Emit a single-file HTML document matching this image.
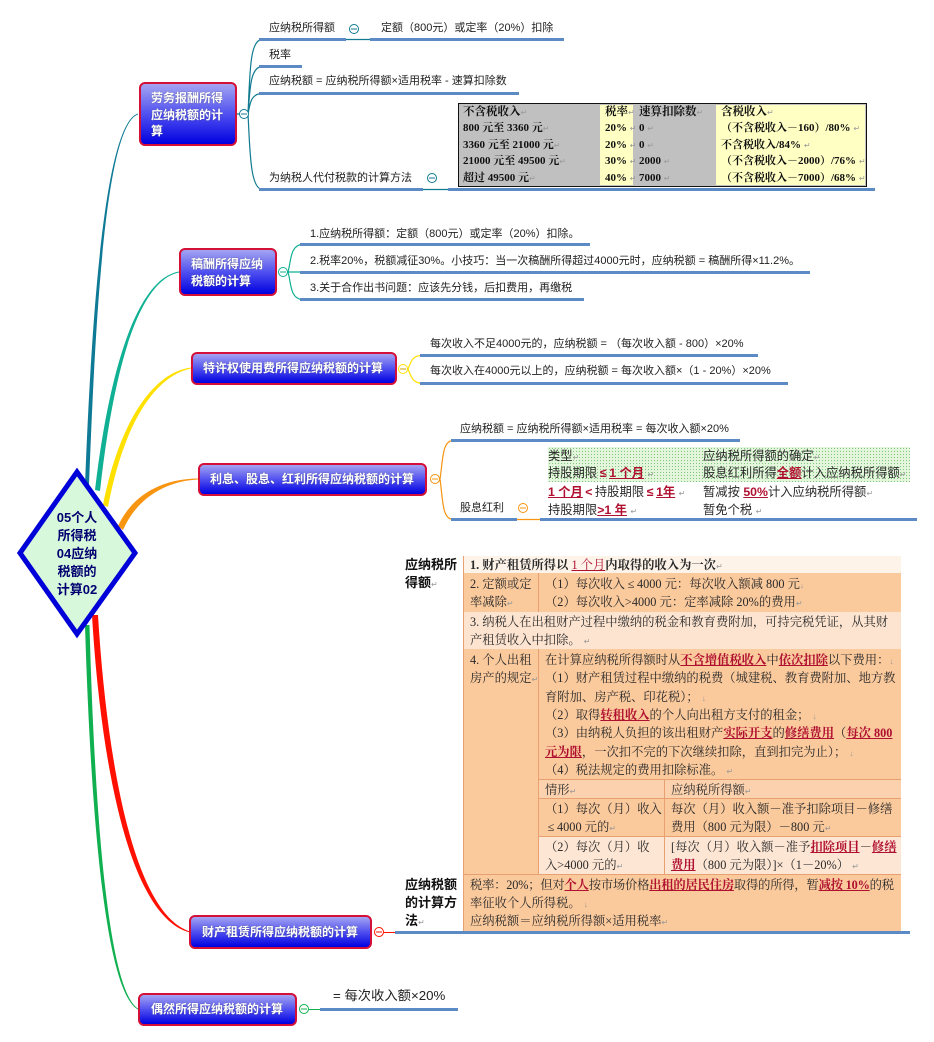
<!DOCTYPE html>
<html lang="zh"><head><meta charset="utf-8"><style>
html,body{margin:0;padding:0;background:#fff}
#p{position:relative;width:934px;height:1042px;overflow:hidden;background:#fff;font-family:"Liberation Sans","Noto Sans CJK SC",sans-serif;color:#222}
.t{position:absolute;white-space:nowrap;line-height:18px;font-size:11px}
.n{position:absolute;box-sizing:border-box;border:2px solid #d41038;border-radius:6px;background:linear-gradient(#a4a4f2,#5050f0 50%,#0000e0)}
.w{color:#fff;font-weight:bold;font-size:12px;text-shadow:0 0 1px #446}
.c{color:#000070;font-weight:bold;font-size:13px;text-align:center;width:80px;left:37px}
.b{position:absolute;background:#5b8ac4;height:3px}
.x{position:absolute}
.s{font-family:"Liberation Serif","Noto Serif CJK SC",serif;font-size:12.3px;color:#2a2a2a}
.h{font-family:"Liberation Sans","Noto Sans CJK SC",sans-serif;font-size:12.3px;color:#2a2a2a}
.k{font-family:"Liberation Serif","Noto Serif CJK SC",serif;font-weight:bold;font-size:11px;color:#111}
.kh{font-size:11.5px}
.l{font-family:"Liberation Sans","Noto Sans CJK SC",sans-serif;font-weight:bold;font-size:13px;color:#111}
.r{color:#b01030;font-weight:bold;text-decoration:underline}
.q{color:#b01030;text-decoration:underline}
.e{display:inline-block;width:12px;text-align:center}
i{font-style:normal;font-size:8px;color:#999;font-weight:normal}
</style></head><body><div id="p">

<svg class="x" style="left:0;top:0" width="934" height="1042" viewBox="0 0 934 1042">
<path fill="#0f7a96" d="M85,485C91,330 103.5,124 138,113.5L138,114.5C104.5,126 95,330 89,485Z"/>
<path fill="#0fb093" d="M95,490C108,378 135,279 179,271.5L179,272.5C135.5,281 112,382 100,491Z"/>
<path fill="#ffe000" d="M103,505C118,428 150,373 191,367.5L191,368.5C151,377 122,432 108,507Z"/>
<path fill="#f79410" d="M118,526C134,492 165,479 198,478.5L198,479.5C166,481 137,498 123,530Z"/>
<path fill="#ff1000" d="M92,615C100,752 127,917 190,932.5L190,931.5C131,913 106,748 98,615Z"/>
<path fill="#10b050" d="M85,625C90,790 103,991 138,1009.5L138,1008.5C106,989 94,790 89.5,625Z"/>
<g fill="none" stroke="#0f7a90" stroke-width="1.2">
<path d="M248,114C250,70 250,40 262,39.5M248,114C250,90 250,67 262,66.5M248,114C250,105 250,94 262,93.5M248,114C250,150 250,188 262,189.5"/>
<path d="M346,39.5H370M423,189.5H448M237,114H240"/></g>
<circle cx="244" cy="114" r="4.5" fill="#fff" stroke="#0f7a90"/><path d="M241,114h6" stroke="#0f7a90"/>
<circle cx="354" cy="29" r="4.5" fill="#fff" stroke="#0f7a90"/><path d="M351,29h6" stroke="#0f7a90"/>
<circle cx="432" cy="178" r="4.5" fill="#fff" stroke="#0f7a90"/><path d="M429,178h6" stroke="#0f7a90"/>
<g fill="none" stroke="#0fb093" stroke-width="1.2"><path d="M288,272C291,262 290,245 302,244.5M288,272H302M288,272C291,282 290,299 302,299.5"/></g>
<circle cx="283" cy="272" r="4.5" fill="#fff" stroke="#0fb093"/><path d="M280,272h6" stroke="#0fb093"/>
<g fill="none" stroke="#ffe000" stroke-width="1.2"><path d="M408,369C411,362 412,356 421,355.5M408,369C411,376 412,382 421,383.5"/></g>
<circle cx="403" cy="369" r="4.5" fill="#fff" stroke="#ffe000"/><path d="M400,369h6" stroke="#c8a000"/>
<g fill="none" stroke="#f79410" stroke-width="1.2"><path d="M440,479C443,460 442,441 453,440.5M440,479C443,500 442,519 453,519.5M517,519.5H540"/></g>
<circle cx="435" cy="479" r="4.5" fill="#fff" stroke="#f79410"/><path d="M432,479h6" stroke="#f79410"/>
<circle cx="523" cy="508" r="4.5" fill="#fff" stroke="#f79410"/><path d="M520,508h6" stroke="#f79410"/>
<path d="M384,932.5H396" stroke="#ff1000"/>
<circle cx="379" cy="932" r="4.5" fill="#fff" stroke="#ff1000"/><path d="M376,932h6" stroke="#ff1000"/>
<path d="M309,1009.5H321" stroke="#10b050"/>
<circle cx="304" cy="1009" r="4.5" fill="#fff" stroke="#10b050"/><path d="M301,1009h6" stroke="#10b050"/>
<polygon points="77,472 135,553 77,634 20,553" fill="#d8f8dc" stroke="#0000d8" stroke-width="5" stroke-linejoin="miter"/>
</svg>

<div class="t c" style="top:509px">05个人</div>
<div class="t c" style="top:527px">所得税</div>
<div class="t c" style="top:545px">04应纳</div>
<div class="t c" style="top:563px">税额的</div>
<div class="t c" style="top:581px">计算02</div>

<div class="n" style="left:139px;top:82px;width:98px;height:64px"></div>
<div class="t w" style="left:151px;top:89px">劳务报酬所得</div>
<div class="t w" style="left:151px;top:106px">应纳税额的计</div>
<div class="t w" style="left:151px;top:122px">算</div>
<div class="n" style="left:179px;top:248px;width:98px;height:48px"></div>
<div class="t w" style="left:191px;top:255px">稿酬所得应纳</div>
<div class="t w" style="left:191px;top:272px">税额的计算</div>
<div class="n" style="left:191px;top:352px;width:206px;height:33px"></div>
<div class="t w" style="left:203px;top:359px">特许权使用费所得应纳税额的计算</div>
<div class="n" style="left:198px;top:463px;width:229px;height:33px"></div>
<div class="t w" style="left:210px;top:470px">利息、股息、红利所得应纳税额的计算</div>
<div class="n" style="left:189px;top:915px;width:183px;height:34px"></div>
<div class="t w" style="left:202px;top:923px">财产租赁所得应纳税额的计算</div>
<div class="n" style="left:138px;top:993px;width:159px;height:33px"></div>
<div class="t w" style="left:151px;top:1000px">偶然所得应纳税额的计算</div>

<div class="t" style="left:269px;top:19px">应纳税所得额</div>
<div class="t" style="left:381px;top:19px">定额（800元）或定率（20%）扣除</div>
<div class="b" style="left:259px;top:38px;width:87px"></div>
<div class="b" style="left:370px;top:38px;width:194px"></div>
<div class="t" style="left:269px;top:46px">税率</div>
<div class="b" style="left:259px;top:65px;width:43px"></div>
<div class="t" style="left:269px;top:72px">应纳税额 = 应纳税所得额×适用税率 - 速算扣除数</div>
<div class="b" style="left:259px;top:92px;width:260px"></div>
<div class="t" style="left:269px;top:169px">为纳税人代付税款的计算方法</div>
<div class="b" style="left:259px;top:188px;width:164px"></div>
<div class="b" style="left:448px;top:188px;width:427px"></div>

<div class="x" style="left:458px;top:103px;width:409px;height:84px;box-sizing:border-box;border:1.5px solid #111;background:#c0c0c0"></div>
<div class="x" style="left:600px;top:105px;width:33px;height:80px;background:#ffffc4"></div>
<div class="x" style="left:716px;top:105px;width:149px;height:80px;background:#ffffc4"></div>
<div class="t k kh" style="left:463px;top:103px">不含税收入<i>↵</i></div>
<div class="t k" style="left:463px;top:119px">800 元至 3360 元<i>↵</i></div>
<div class="t k" style="left:463px;top:136px">3360 元至 21000 元<i>↵</i></div>
<div class="t k" style="left:463px;top:152px">21000 元至 49500 元<i>↵</i></div>
<div class="t k" style="left:463px;top:169px">超过 49500 元<i>↵</i></div>
<div class="t k kh" style="left:605px;top:103px">税率<i>↵</i></div>
<div class="t k" style="left:605px;top:119px">20% <i>↵</i></div>
<div class="t k" style="left:605px;top:136px">20% <i>↵</i></div>
<div class="t k" style="left:605px;top:152px">30% <i>↵</i></div>
<div class="t k" style="left:605px;top:169px">40% <i>↵</i></div>
<div class="t k kh" style="left:639px;top:103px">速算扣除数<i>↵</i></div>
<div class="t k" style="left:639px;top:119px">0 <i>↵</i></div>
<div class="t k" style="left:639px;top:136px">0 <i>↵</i></div>
<div class="t k" style="left:639px;top:152px">2000 <i>↵</i></div>
<div class="t k" style="left:639px;top:169px">7000 <i>↵</i></div>
<div class="t k kh" style="left:721px;top:103px">含税收入<i>↵</i></div>
<div class="t k" style="left:721px;top:119px">（不含税收入－160）/80% <i>↵</i></div>
<div class="t k" style="left:721px;top:136px">不含税收入/84% <i>↵</i></div>
<div class="t k" style="left:721px;top:152px">（不含税收入－2000）/76% <i>↵</i></div>
<div class="t k" style="left:721px;top:169px">（不含税收入－7000）/68% <i>↵</i></div>

<div class="t" style="left:310px;top:225px">1.应纳税所得额：定额（800元）或定率（20%）扣除。</div>
<div class="b" style="left:300px;top:243px;width:290px"></div>
<div class="t" style="left:310px;top:252px">2.税率20%，税额减征30%。小技巧：当一次稿酬所得超过4000元时，应纳税额 = 稿酬所得×11.2%。</div>
<div class="b" style="left:300px;top:271px;width:510px"></div>
<div class="t" style="left:310px;top:279px">3.关于合作出书问题：应该先分钱，后扣费用，再缴税</div>
<div class="b" style="left:300px;top:298px;width:284px"></div>

<div class="t" style="left:430px;top:335px">每次收入不足4000元的，应纳税额 = （每次收入额 - 800）×20%</div>
<div class="b" style="left:420px;top:354px;width:338px"></div>
<div class="t" style="left:430px;top:362px">每次收入在4000元以上的，应纳税额 = 每次收入额×（1 - 20%）×20%</div>
<div class="b" style="left:420px;top:382px;width:368px"></div>

<div class="t" style="left:460px;top:420px">应纳税额 = 应纳税所得额×适用税率 = 每次收入额×20%</div>
<div class="b" style="left:451px;top:439px;width:289px"></div>
<div class="t" style="left:460px;top:499px">股息红利</div>
<div class="b" style="left:451px;top:518px;width:66px"></div>
<div class="b" style="left:540px;top:518px;width:377px"></div>
<div class="x" style="left:548px;top:447px;width:362px;height:35px;background-color:#e4f6dc;background-image:radial-gradient(#7fc77f 0.6px,transparent 0.8px);background-size:3px 3px"></div>
<div class="t h" style="left:548px;top:447px">类型<i>↵</i></div>
<div class="t h" style="left:548px;top:464px">持股期限<span class="r"><span class="e">≤</span>1 个月</span> <i>↵</i></div>
<div class="t h" style="left:548px;top:483px"><span class="r">1 个月<span class="e">&lt;</span></span>持股期限<span class="r"><span class="e">≤</span>1年</span> <i>↵</i></div>
<div class="t h" style="left:548px;top:501px">持股期限<span class="r">&gt;1 年</span> <i>↵</i></div>
<div class="t h" style="left:703px;top:447px">应纳税所得额的确定<i>↵</i></div>
<div class="t h" style="left:703px;top:464px">股息红利所得<span class="r">全额</span>计入应纳税所得额<i>↵</i></div>
<div class="t h" style="left:703px;top:483px">暂减按 <span class="r">50%</span>计入应纳税所得额<i>↵</i></div>
<div class="t h" style="left:703px;top:501px">暂免个税 <i>↵</i></div>

<div class="x" style="left:463px;top:556px;width:438px;height:17px;background:#fdf3e8"></div>
<div class="x" style="left:463px;top:573px;width:438px;height:39px;background:#fac99c"></div>
<div class="x" style="left:463px;top:612px;width:438px;height:37px;background:#fde4d0"></div>
<div class="x" style="left:463px;top:649px;width:438px;height:225px;background:#fac99c"></div>
<div class="x" style="left:463px;top:874px;width:438px;height:57px;background:#fac99c"></div>
<div class="x" style="left:538px;top:779px;width:363px;height:19px;background:#fcd2ae"></div>
<div class="x" style="left:538px;top:836px;width:363px;height:38px;background:#fde6d4"></div>
<div class="x" style="left:538px;top:573px;width:1px;height:39px;background:#e8a070"></div>
<div class="x" style="left:538px;top:649px;width:1px;height:225px;background:#e8a070"></div>
<div class="x" style="left:664px;top:779px;width:1px;height:95px;background:#e8a070"></div>
<div class="x" style="left:538px;top:779px;width:363px;height:1px;background:#e8a070"></div>
<div class="x" style="left:538px;top:798px;width:363px;height:1px;background:#e8a070"></div>
<div class="x" style="left:538px;top:836px;width:363px;height:1px;background:#e8a070"></div>
<div class="x" style="left:463px;top:874px;width:438px;height:1px;background:#e8a070"></div>
<div class="x" style="left:463px;top:556px;width:1px;height:375px;background:#e8a070"></div>

<div class="t l" style="left:405px;top:556px">应纳税所</div>
<div class="t l" style="left:405px;top:574px">得额<i>↵</i></div>
<div class="t l" style="left:405px;top:876px">应纳税额</div>
<div class="t l" style="left:405px;top:894px">的计算方</div>
<div class="t l" style="left:405px;top:912px">法<i>↵</i></div>

<div class="t s" style="left:470px;top:556px;font-weight:bold">1. 财产租赁所得以 <span class="q" style="font-weight:normal">1 个月</span>内取得的收入为一次<i>↵</i></div>
<div class="t s" style="left:470px;top:575px">2. 定额或定</div>
<div class="t s" style="left:470px;top:593px">率减除<i>↵</i></div>
<div class="t s" style="left:545px;top:575px">（1）每次收入<span class="e">≤</span>4000 元：每次收入额减 800 元<i>↓</i></div>
<div class="t s" style="left:545px;top:593px">（2）每次收入&gt;4000 元：定率减除 20%的费用<i>↵</i></div>
<div class="t s" style="left:470px;top:613px">3. 纳税人在出租财产过程中缴纳的税金和教育费附加，可持完税凭证，从其财</div>
<div class="t s" style="left:470px;top:631px">产租赁收入中扣除。 <i>↵</i></div>
<div class="t s" style="left:470px;top:651px">4. 个人出租</div>
<div class="t s" style="left:470px;top:669px">房产的规定<i>↵</i></div>
<div class="t s" style="left:545px;top:651px">在计算应纳税所得额时从<span class="r">不含增值税收入</span>中<span class="r">依次扣除</span>以下费用：<i>↓</i></div>
<div class="t s" style="left:545px;top:669px">（1）财产租赁过程中缴纳的税费（城建税、教育费附加、地方教</div>
<div class="t s" style="left:545px;top:688px">育附加、房产税、印花税）； <i>↓</i></div>
<div class="t s" style="left:545px;top:706px">（2）取得<span class="r">转租收入</span>的个人向出租方支付的租金； <i>↓</i></div>
<div class="t s" style="left:545px;top:724px">（3）由纳税人负担的该出租财产<span class="r">实际开支</span>的<span class="r">修缮费用</span>（<span class="r">每次 800</span></div>
<div class="t s" style="left:545px;top:743px"><span class="r">元为限</span>，一次扣不完的下次继续扣除，直到扣完为止）； <i>↓</i></div>
<div class="t s" style="left:545px;top:761px">（4）税法规定的费用扣除标准。 <i>↵</i></div>
<div class="t s" style="left:545px;top:781px">情形<i>↵</i></div>
<div class="t s" style="left:671px;top:781px">应纳税所得额<i>↵</i></div>
<div class="t s" style="left:545px;top:800px">（1）每次（月）收入</div>
<div class="t s" style="left:545px;top:818px"><span class="e">≤</span>4000 元的<i>↵</i></div>
<div class="t s" style="left:671px;top:800px">每次（月）收入额－准予扣除项目－修缮</div>
<div class="t s" style="left:671px;top:818px">费用（800 元为限）－800 元<i>↵</i></div>
<div class="t s" style="left:545px;top:838px">（2）每次（月）收</div>
<div class="t s" style="left:545px;top:856px">入&gt;4000 元的<i>↵</i></div>
<div class="t s" style="left:671px;top:838px">[每次（月）收入额－准予<span class="r">扣除项目</span>－<span class="r">修缮</span></div>
<div class="t s" style="left:671px;top:856px"><span class="r">费用</span>（800 元为限）]×（1－20%） <i>↵</i></div>
<div class="t s" style="left:470px;top:876px;letter-spacing:-.2px">税率：20%；但对<span class="r">个人</span>按市场价格<span class="r">出租的居民住房</span>取得的所得，暂<span class="r">减按 10%</span>的税</div>
<div class="t s" style="left:470px;top:894px">率征收个人所得税。 <i>↓</i></div>
<div class="t s" style="left:470px;top:912px">应纳税额＝应纳税所得额×适用税率<i>↵</i></div>
<div class="b" style="left:395px;top:931px;width:515px"></div>

<div class="t" style="left:333px;top:987px;font-size:13.3px">= 每次收入额×20%</div>
<div class="b" style="left:320px;top:1008px;width:138px"></div>
</div></body></html>
